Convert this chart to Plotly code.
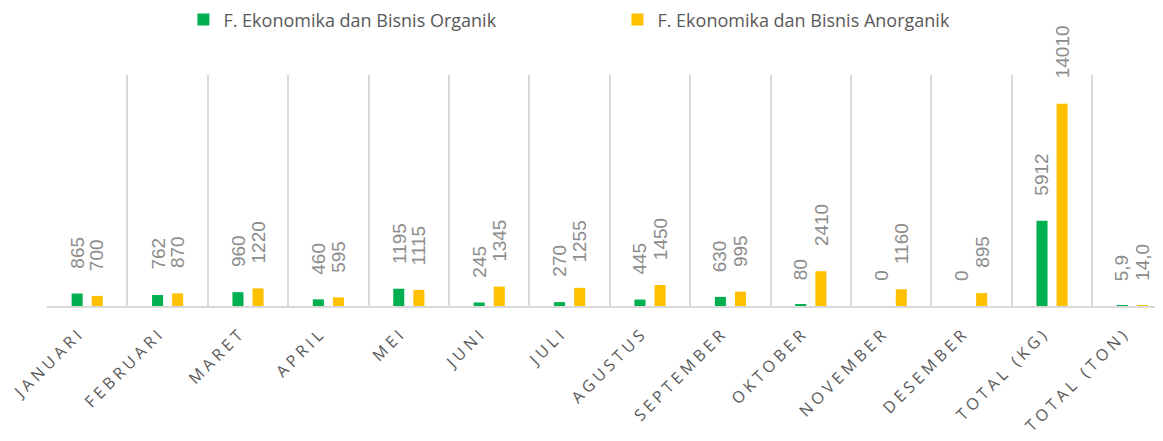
import plotly.graph_objects as go

categories = ["JANUARI", "FEBRUARI", "MARET", "APRIL", "MEI", "JUNI", "JULI",
              "AGUSTUS", "SEPTEMBER", "OKTOBER", "NOVEMBER", "DESEMBER",
              "TOTAL (KG)", "TOTAL (TON)"]
organik = [865, 762, 960, 460, 1195, 245, 270, 445, 630, 80, 0, 0, 5912, 5.9]
anorganik = [700, 870, 1220, 595, 1115, 1345, 1255, 1450, 995, 2410, 1160, 895, 14010, 14.0]
series_names = ["F. Ekonomika dan Bisnis Organik", "F. Ekonomika dan Bisnis Anorganik"]
colors = ["#00B050", "#FFC000"]


def fmt(v):
    if float(v).is_integer() and (v == 0 or v >= 50):
        return str(int(v))
    return f"{v:.1f}".replace(".", ",")


def spaced(s):
    return "\u2005".join(list(s))


fig = go.Figure()
for name, vals, col in zip(series_names, [organik, anorganik], colors):
    fig.add_trace(go.Bar(x=categories, y=vals, name=name, marker_color=col,
                         marker_line_width=0))

annotations = []
for k, vals in enumerate([organik, anorganik]):
    off = -0.125 if k == 0 else 0.125
    for i, v in enumerate(vals):
        annotations.append(dict(
            x=i + off, y=v, xref="x", yref="y", text=fmt(v),
            textangle=-90, showarrow=False, xanchor="center", yanchor="bottom",
            yshift=23, font=dict(family="Liberation Sans", size=19, color="#8c8c8c")))

fig.update_layout(
    width=1163, height=441,
    margin=dict(l=39, r=8, t=67, b=143, autoexpand=False),
    paper_bgcolor="white", plot_bgcolor="white",
    barmode="group", bargap=0.5, bargroupgap=0.45,
    showlegend=True,
    legend=dict(orientation="h", x=0.524, xanchor="center", y=0.973, yanchor="middle",
                yref="container", xref="container",
                font=dict(family="Open Sans", size=18, color="#595959"),
                entrywidth=389, itemclick=False),
    annotations=annotations,
    font=dict(family="Open Sans"),
)
fig.update_xaxes(
    type="category", range=[-0.5, 13.38], tickson="boundaries", automargin=False,
    showgrid=True, gridcolor="#d9d9d9", gridwidth=2,
    showline=True, linecolor="#d9d9d9", linewidth=2,
    ticks="", tickangle=-45, ticklabelstandoff=12, ticklabelshift=-10,
    tickvals=categories, ticktext=[spaced(c) for c in categories],
    tickfont=dict(family="Open Sans", size=16, color="#595959"),
)
fig.update_yaxes(range=[0, 16000], visible=False, showgrid=False, automargin=False)

fig.write_html("out.html")
